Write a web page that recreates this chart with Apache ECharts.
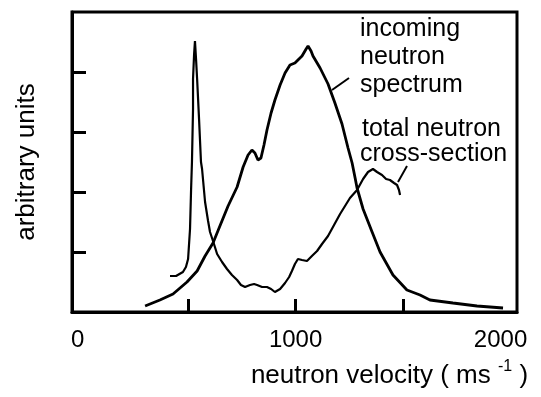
<!DOCTYPE html>
<html>
<head>
<meta charset="utf-8">
<script src="https://cdn.jsdelivr.net/npm/echarts@6/dist/echarts.min.js"></script>
<style>html,body{margin:0;padding:0;background:#fff}#c{width:541px;height:397px}</style>
</head>
<body>
<div id="c"></div>
<script>
// incoming neutron spectrum
var spectrumX = [300,369,430,495,542,579,616,648,686,728,756,779,797,811,825,839,853,867,886,904,928,951,974,997,1030,1049,1058,1072,1081,1114,1151,1183,1216,1244,1263,1277,1286,1314,1356,1393,1453,1518,1579,1625,1732,1844,1965];
var spectrumY = [6,12,18,30,41,56,69,86,106,125,145,157,162,159,152,154,167,182,199,212,227,239,247,249,256,263,266,261,256,244,228,209,188,164,149,134,124,103,80,60,37,22,17,12,9,6,4];
// total neutron cross-section
var crossX = [416,444,476,490,500,509,514,518,523,523,528,532,537,542,551,560,565,579,593,602,616,635,658,681,704,728,746,765,788,807,821,844,867,886,904,928,951,970,983,997,1011,1030,1053,1076,1100,1123,1151,1179,1207,1230,1253,1286,1314,1337,1360,1379,1402,1421,1439,1458,1472,1481,1486];
var crossY = [36,36,40,45,53,83,123,150,203,233,258,271,253,233,193,150,143,110,91,80,71,58,50,43,37,32,27,25,27,28,27,25,25,23,20,23,29,35,41,48,53,52,51,56,61,68,76,87,98,106,114,122,133,140,143,140,137,133,132,129,127,122,117];
// axis ticks and labels
var xTicks = [500,1000,1500];
var xLabels = [0,1000,2000];
var yTicks = [60,120,180,240];

function pairs(xs, ys){ return xs.map(function(x,i){ return [x, ys[i]]; }); }

var FONT = 'Liberation Sans, Arial, sans-serif';
var chart = echarts.init(document.getElementById('c'), null, {renderer:'canvas'});
chart.setOption({
  backgroundColor:'#fff',
  animation:false,
  grid:{left:72,right:24,top:12,bottom:85,show:true,borderColor:'#000',borderWidth:3,outerBoundsMode:'none'},
  xAxis:{
    type:'value',min:-40,max:2030,
    axisLine:{show:true,onZero:false,lineStyle:{color:'#000',width:3}},
    axisTick:{show:true,inside:true,length:13,customValues:xTicks,lineStyle:{color:'#000',width:3}},
    axisLabel:{show:true,customValues:xLabels,margin:16,color:'#000',fontFamily:FONT,fontSize:24,
      formatter:function(v){ return v===2000 ? '{r|'+v+'}' : (v===0 ? '{l|'+v+'}' : String(v)); },
      rich:{r:{fontFamily:FONT,fontSize:24,color:'#000',padding:[0,20,10,0]},l:{fontFamily:FONT,fontSize:24,color:'#000',padding:[0,6,0,0]}}},
    splitLine:{show:false},
    name:'{n|neutron velocity ( ms }{s|-1}{n| )}',
    nameLocation:'middle',nameGap:47,
    nameTextStyle:{padding:[0,0,0,190],rich:{
      n:{fontFamily:FONT,fontSize:26,color:'#000',verticalAlign:'bottom',lineHeight:30},
      s:{fontFamily:FONT,fontSize:16,color:'#000',verticalAlign:'top',lineHeight:30,padding:[0,0,14,0]}}}
  },
  yAxis:{
    type:'value',min:0,max:300,
    axisLine:{show:true,onZero:false,lineStyle:{color:'#000',width:3}},
    axisTick:{show:true,inside:true,length:14,customValues:yTicks,lineStyle:{color:'#000',width:3}},
    axisLabel:{show:false},
    splitLine:{show:false},
    name:'arbitrary units',nameLocation:'middle',nameRotate:90,nameGap:32,
    nameTextStyle:{fontFamily:FONT,fontSize:26,color:'#000'}
  },
  series:[
    {type:'line',name:'incoming neutron spectrum',data:pairs(spectrumX,spectrumY),showSymbol:false,smooth:false,
      lineStyle:{color:'#000',width:2.8}},
    {type:'line',name:'total neutron cross-section',data:pairs(crossX,crossY),showSymbol:false,smooth:false,
      lineStyle:{color:'#000',width:2.2}}
  ],
  graphic:[
    {type:'text',left:360,top:17,style:{text:'incoming',font:'25px '+FONT,fill:'#000'}},
    {type:'text',left:360,top:45,style:{text:'neutron',font:'25px '+FONT,fill:'#000'}},
    {type:'text',left:360,top:73,style:{text:'spectrum',font:'25px '+FONT,fill:'#000'}},
    {type:'text',left:362,top:117,style:{text:'total neutron',font:'25px '+FONT,fill:'#000'}},
    {type:'text',left:360,top:142,style:{text:'cross-section',font:'25px '+FONT,fill:'#000'}},
    {type:'line',shape:{x1:332,y1:90,x2:349,y2:78},style:{stroke:'#000',lineWidth:2}},
    {type:'line',shape:{x1:398,y1:182,x2:407,y2:166},style:{stroke:'#000',lineWidth:2}}
  ]
});
</script>
</body>
</html>
